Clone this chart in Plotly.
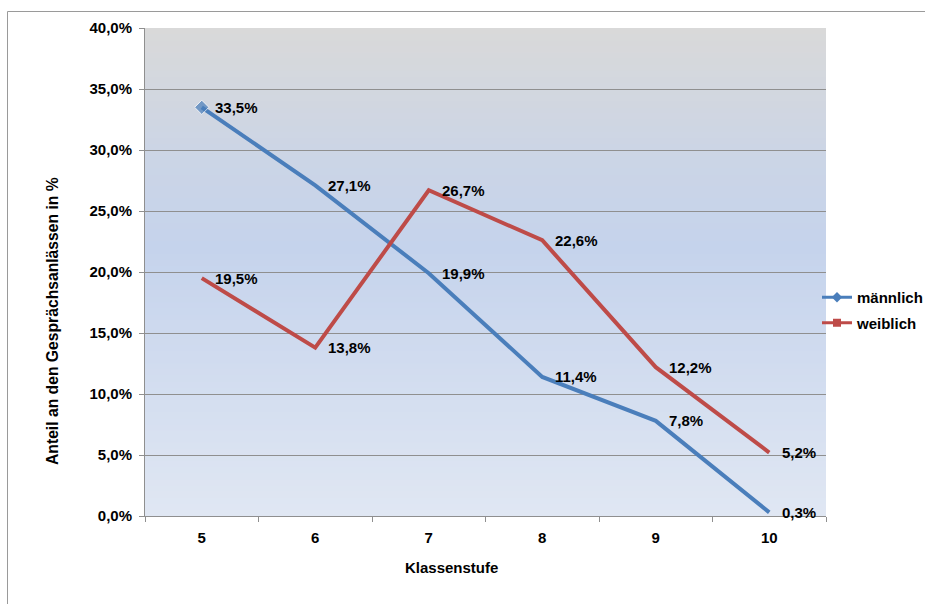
import plotly.graph_objects as go

# Share of counselling occasions by grade level (percent)
klassenstufen = [5, 6, 7, 8, 9, 10]
maennlich = [33.5, 27.1, 19.9, 11.4, 7.8, 0.3]
weiblich = [19.5, 13.8, 26.7, 22.6, 12.2, 5.2]
y_ticks = [0, 5, 10, 15, 20, 25, 30, 35, 40]

BLUE = "#4a7ebb"
RED = "#be4b48"
GRID = "#8f8f8f"
FONT = "Liberation Sans, Arial, sans-serif"
FS = 15

# plot area in pixels
L, R, T, B = 145, 99, 28, 88
PW, PH = 925 - L - R, 604 - T - B


def px_x(px):
    return (px - L) / PW


def px_y(py):
    return (604 - B - py) / PH


def fmt(v):
    return f"{v:.1f}".replace(".", ",") + "%"


fig = go.Figure()

fig.add_trace(go.Scatter(
    x=klassenstufen, y=maennlich, mode="lines+markers", showlegend=False,
    line=dict(color=BLUE, width=4),
    marker=dict(symbol="diamond", size=[11, 0, 0, 0, 0, 0], color=BLUE),
    hoverinfo="skip",
))
fig.add_trace(go.Scatter(
    x=klassenstufen, y=weiblich, mode="lines", showlegend=False,
    line=dict(color=RED, width=4),
    hoverinfo="skip",
))

# legend entries
fig.add_trace(go.Scatter(
    x=[None], y=[None], mode="lines+markers", name="männlich", legendgroup="m",
    line=dict(color=BLUE, width=3), marker=dict(symbol="diamond", size=8, color=BLUE),
))
fig.add_trace(go.Scatter(
    x=[None], y=[None], mode="lines+markers", name="weiblich", legendgroup="w",
    line=dict(color=RED, width=3), marker=dict(symbol="square", size=8, color=RED),
))

# gradient plot background drawn as thin bands below the grid
stops = [
    (0.0, (224, 231, 243)),
    (0.55, (197, 211, 236)),
    (0.75, (204, 213, 229)),
    (1.0, (217, 217, 217)),
]


def interp(t):
    for (t0, c0), (t1, c1) in zip(stops[:-1], stops[1:]):
        if t0 <= t <= t1:
            f = (t - t0) / (t1 - t0)
            return "rgb({},{},{})".format(*[round(a + (b - a) * f) for a, b in zip(c0, c1)])
    return "rgb({},{},{})".format(*stops[-1][1])


shapes = []
N = 80
for i in range(N):
    y0, y1 = i / N, (i + 1) / N
    shapes.append(dict(
        type="rect", xref="paper", yref="paper", x0=0, x1=1, y0=y0, y1=min(1, y1 + 0.002),
        fillcolor=interp((y0 + y1) / 2), line=dict(width=0), layer="below",
    ))

# outer chart frame
shapes.append(dict(
    type="rect", xref="paper", yref="paper",
    x0=px_x(7.5), x1=px_x(940), y0=px_y(620), y1=px_y(11.5),
    line=dict(color="#9a9a9a", width=1), fillcolor="rgba(0,0,0,0)", layer="below",
))

annotations = []
for series in (maennlich, weiblich):
    for k, v in zip(klassenstufen, series):
        annotations.append(dict(
            x=k, y=v, xref="x", yref="y", text="<b>" + fmt(v) + "</b>", showarrow=False,
            xanchor="left", yanchor="middle", xshift=11,
            font=dict(family=FONT, size=FS, color="#000000"),
        ))

annotations.append(dict(
    x=px_x(451), y=px_y(567), xref="paper", yref="paper", text="<b>Klassenstufe</b>",
    showarrow=False, xanchor="center", yanchor="middle",
    font=dict(family=FONT, size=FS, color="#000000"),
))
annotations.append(dict(
    x=px_x(52), y=px_y(321), xref="paper", yref="paper",
    text="<b>Anteil an den Gesprächsanlässen in %</b>", textangle=-90,
    showarrow=False, xanchor="center", yanchor="middle",
    font=dict(family=FONT, size=15.7, color="#000000"),
))

fig.update_layout(
    width=925, height=604,
    margin=dict(l=L, r=R, t=T, b=B, pad=0, autoexpand=False),
    paper_bgcolor="white",
    plot_bgcolor="rgba(0,0,0,0)",
    font=dict(family=FONT, size=FS, color="#000000"),
    shapes=shapes,
    annotations=annotations,
    legend=dict(
        x=px_x(817), xanchor="left", y=px_y(310), yanchor="middle",
        font=dict(family=FONT, size=FS, color="#000000", weight="bold"),
        bgcolor="rgba(0,0,0,0)", tracegroupgap=3, traceorder="grouped",
        itemwidth=30,
    ),
    xaxis=dict(
        range=[4.5, 10.5], tickvals=klassenstufen,
        ticktext=[str(k) for k in klassenstufen],
        showgrid=False, showline=True, linecolor=GRID, linewidth=1,
        ticks="", ticklabelstandoff=8,
        minor=dict(tickvals=[k - 0.5 for k in klassenstufen] + [klassenstufen[-1] + 0.5],
                   ticks="outside", ticklen=5, tickcolor=GRID, showgrid=False),
        tickfont=dict(family=FONT, size=FS, color="#000000", weight="bold"),
        zeroline=False,
    ),
    yaxis=dict(
        range=[0, 40], tickvals=y_ticks, ticktext=[fmt(v) for v in y_ticks],
        showgrid=True, gridcolor=GRID, gridwidth=1,
        showline=True, linecolor=GRID, linewidth=1,
        ticks="outside", ticklen=5, tickcolor=GRID, ticklabelstandoff=4,
        tickfont=dict(family=FONT, size=FS, color="#000000", weight="bold"),
        zeroline=False,
    ),
)

fig.write_html("out.html")
